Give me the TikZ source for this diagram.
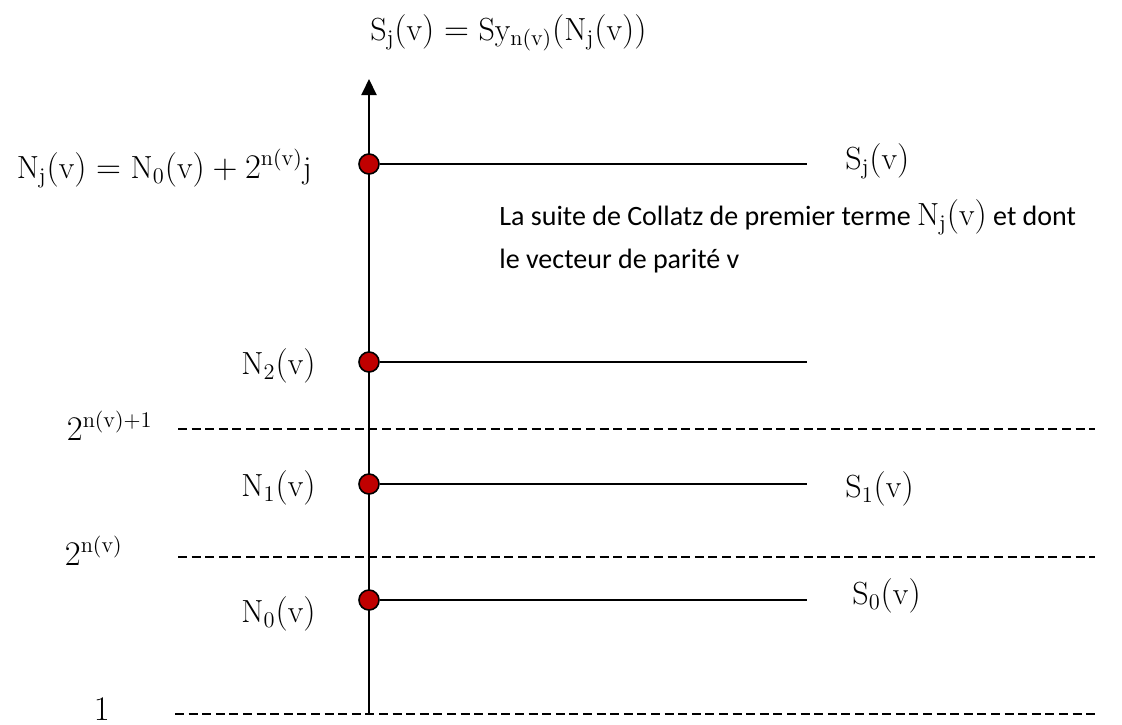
\documentclass[tikz,border=0pt]{standalone}
\usepackage{fontspec}
\usetikzlibrary{arrows.meta}
\newfontfamily\calibrifont{Carlito}
\definecolor{dotred}{RGB}{192,0,0}
\newcommand{\bigmath}[1]{\mbox{\fontsize{16}{19}\selectfont$#1$}}

\begin{document}
\begin{tikzpicture}[x=0.5pt, y=-0.5pt,
    dot/.style={circle, fill=dotred, draw=black, line width=0.8pt, minimum size=10pt, inner sep=0pt},
    lbl/.style={inner sep=0pt, font=\fontsize{16}{19}\selectfont},
    limit/.style={dash pattern=on 4.5pt off 2.3pt, line width=0.7pt},
    seg/.style={line width=0.9pt}]
    \useasboundingbox (0,0) rectangle (1122,724);

    % Dashed limits
    \foreach \y/\x in {429/178, 557/178, 714/175} {
        \draw[limit] (\x,\y) -- (1095,\y);
    }
    \node[lbl, anchor=base east] (lim2) at (153,440) {$2^{\mathrm{n(v)+1}}$};
    \node[lbl, anchor=base east] (lim1) at (123,565) {$2^{\mathrm{n(v)}}$};
    \node[lbl, anchor=base east] (lim0) at (110,720) {$1$};

    % Axis
    \coordinate (bot) at (369,714);
    \coordinate (top) at (369,79);
    \draw[line width=1pt, -{Triangle[length=8pt, width=7.5pt]}] (bot) -- (top);
    \node[lbl, anchor=base west] (axlab) at (370,40) {$\mathrm{S_j(v)} = \mathrm{Sy_{n(v)}(N_j(v))}$};

    % Terms N_k(v) and their lines
    \foreach \k/\y in {0/600, 1/484, 2/362, j/164} {
        \node[dot] (n\k) at (369,\y) {};
        \coordinate (e\k) at (807,\y);
        \draw[seg] (n\k) -- (e\k);
    }

    % Left labels
    \foreach \k/\y in {0/622, 1/496, 2/374} {
        \node[lbl, anchor=base east] (ln\k) at (316,\y) {$\mathrm{N_{\k}(v)}$};
    }
    \node[lbl, anchor=base east] (lnj) at (312,178) {$\mathrm{N_j(v)} = \mathrm{N_0(v)} + 2^{\mathrm{n(v)}}\mathrm{j}$};

    % Right labels
    \node[lbl, anchor=base west] (sj) at (845,169) {$\mathrm{S_j(v)}$};
    \node[lbl, anchor=base west] (s1) at (845,497) {$\mathrm{S_1(v)}$};
    \node[lbl, anchor=base west] (s0) at (852,604) {$\mathrm{S_0(v)}$};

    % Comment
    \node[inner sep=0pt, anchor=north west, align=left, font=\calibrifont\fontsize{14}{21.5}\selectfont] (txt) at (499,199)
        {La suite de Collatz de premier terme \bigmath{\mathrm{N_j(v)}} et dont\\le vecteur de parité v};
\end{tikzpicture}
\end{document}
